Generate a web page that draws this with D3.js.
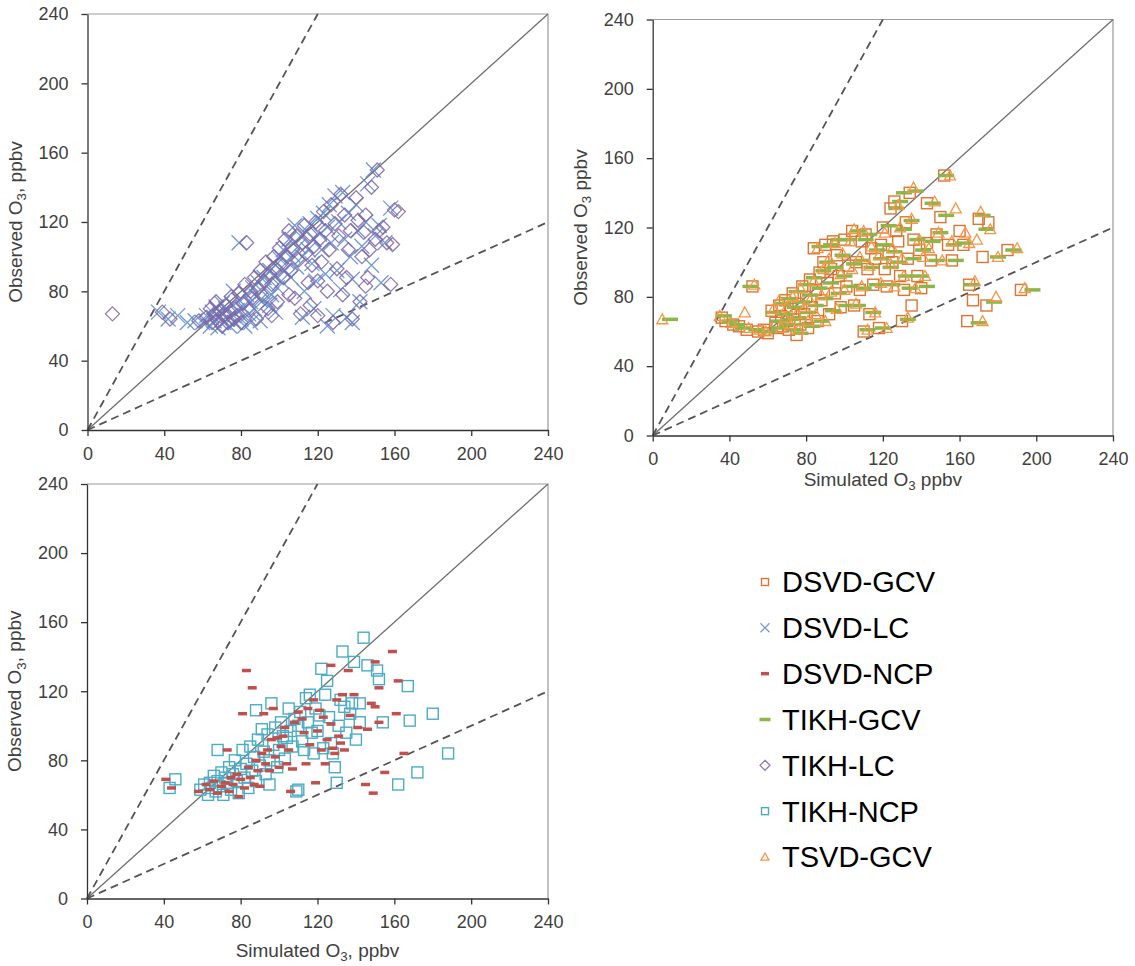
<!DOCTYPE html>
<html>
<head>
<meta charset="utf-8">
<script src="https://cdn.jsdelivr.net/npm/d3@7"></script>
<style>
  html, body { margin: 0; padding: 0; background: #fff; }
  svg { display: block; font-family: "Liberation Sans", Arial, sans-serif; }
</style>
</head>
<body>
<svg id="chart" width="1135" height="966"></svg>
<script>
// ---------------- DATA ----------------
const tickValues = [0, 40, 80, 120, 160, 200, 240];
const seriesNames = ["DSVD-GCV", "DSVD-LC", "DSVD-NCP", "TIKH-GCV", "TIKH-LC", "TIKH-NCP", "TSVD-GCV"];

// reference lines (1:1, 2:1, 1:2)
const lineOneToOne = [[0, 0], [240, 240]];
const lineTwoToOne = [[0, 0], [120, 240]];
const lineOneToTwo = [[0, 0], [240, 120]];

// Panel A: LC methods
const dsvdLC = [[37,68],[42,64],[47,66],[52,62],[56,63],[60,62],[62,66],[64,60],[65,68],[66,63],[67,71],[68,59],[69,65],[70,67],[71,62],[72,70],[73,64],[74,60],[75,73],[76,66],[77,62],[78,69],[79,75],[80,64],[81,71],[82,60],[83,78],[79,108],[84,67],[85,74],[86,82],[87,70],[88,77],[89,85],[90,63],[91,80],[92,88],[93,73],[94,84],[95,92],[96,78],[97,89],[98,95],[99,82],[100,99],[101,86],[102,104],[103,92],[104,97],[105,110],[106,88],[107,101],[108,118],[109,94],[110,106],[111,112],[112,100],[113,80],[114,115],[115,104],[116,119],[117,96],[118,110],[119,86],[120,122],[121,113],[122,104],[123,125],[124,90],[125,117],[126,130],[127,108],[128,66],[129,135],[130,92],[131,120],[132,81],[133,137],[134,110],[135,65],[136,125],[137,100],[138,87],[140,130],[141,115],[142,74],[143,106],[145,120],[146,142],[148,95],[149,150],[150,112],[152,118],[153,85],[155,108],[158,128],[138,62],[125,60],[118,70],[112,65],[98,68],[95,72],[90,75],[85,62],[76,80],[70,73]];
const tikhLC = [[13,67],[39,68],[43,64],[58,63],[62,65],[64,70],[65,62],[66,67],[67,74],[68,63],[69,69],[70,60],[71,66],[72,72],[73,62],[74,68],[75,77],[76,64],[77,70],[78,66],[79,79],[80,62],[81,73],[82,84],[83,108],[84,69],[85,80],[86,76],[87,88],[88,64],[89,82],[90,92],[91,78],[92,86],[93,97],[94,70],[95,90],[96,84],[97,100],[98,93],[99,74],[100,105],[101,96],[102,88],[103,110],[104,100],[105,115],[106,92],[107,104],[108,76],[109,112],[110,98],[111,67],[112,108],[113,118],[114,102],[115,85],[116,113],[117,95],[118,106],[119,120],[120,86],[121,110],[122,97],[123,126],[124,115],[125,80],[126,104],[127,130],[128,62],[129,119],[130,93],[131,112],[132,136],[133,78],[134,124],[135,88],[136,104],[137,115],[138,64],[140,134],[141,121],[142,74],[143,100],[144,114],[145,124],[146,88],[147,104],[148,140],[150,110],[151,150],[152,115],[154,117],[156,108],[158,84],[159,107],[160,127],[162,126],[145,83],[120,66],[116,72],[105,78],[96,66]];

// Panel B: GCV methods
const dsvdGCV = [[36,68],[38,66],[42,64],[45,63],[49,61],[52,86],[55,60],[58,61],[60,59],[62,72],[64,65],[65,62],[66,75],[67,69],[68,63],[69,78],[70,66],[71,61],[72,73],[73,82],[74,67],[75,58],[76,76],[77,64],[78,86],[79,70],[80,80],[81,62],[82,90],[83,74],[84,108],[85,84],[86,66],[87,94],[88,78],[89,100],[90,110],[91,88],[92,70],[93,96],[94,112],[95,82],[96,104],[97,92],[98,74],[100,113],[101,86],[102,98],[104,118],[105,75],[106,100],[108,84],[109,112],[110,60],[111,116],[112,96],[113,70],[114,108],[115,87],[116,102],[118,62],[119,110],[120,120],[121,96],[122,86],[123,106],[124,131],[125,100],[126,135],[127,118],[128,112],[129,92],[130,66],[131,84],[132,123],[133,102],[134,140],[135,75],[136,113],[138,92],[139,107],[140,85],[143,134],[143,111],[145,101],[148,116],[150,126],[152,150],[154,110],[156,101],[160,118],[162,110],[164,66],[165,87],[167,78],[170,125],[172,103],[174,75],[175,123],[185,107],[192,84]];
const tikhGCV = [[9,67],[37,69],[40,66],[44,64],[47,62],[51,86],[54,61],[57,60],[61,60],[63,71],[65,66],[66,62],[68,76],[69,70],[70,64],[71,79],[72,67],[73,61],[74,74],[75,83],[76,68],[77,59],[78,77],[79,64],[80,87],[81,71],[82,81],[83,63],[84,91],[85,75],[87,109],[87,85],[88,66],[89,95],[90,79],[91,100],[93,110],[93,88],[94,72],[95,97],[97,113],[97,82],[99,104],[100,92],[101,75],[102,113],[103,86],[105,99],[107,118],[107,75],[109,101],[110,85],[111,113],[112,61],[113,116],[114,97],[115,71],[117,107],[117,87],[119,102],[120,62],[121,110],[123,121],[124,97],[125,87],[126,106],[127,131],[128,100],[129,135],[131,119],[131,140],[132,92],[133,67],[134,85],[135,124],[136,102],[137,141],[138,113],[140,92],[141,107],[143,86],[146,134],[146,112],[148,101],[150,117],[153,127],[153,150],[157,110],[158,101],[162,111],[166,87],[170,65],[172,127],[174,119],[178,77],[180,103],[188,107],[198,84]];
const tsvdGCV = [[5,67],[35,69],[41,65],[48,71],[50,62],[53,87],[56,61],[59,60],[63,73],[66,78],[67,62],[69,68],[70,74],[72,64],[73,80],[75,70],[76,61],[77,85],[79,74],[81,66],[82,78],[84,89],[85,70],[86,108],[88,81],[89,96],[90,66],[92,102],[93,83],[95,111],[96,73],[98,93],[99,105],[100,84],[103,112],[104,96],[105,119],[106,76],[108,103],[109,86],[110,118],[112,61],[113,98],[114,109],[116,71],[118,104],[119,88],[121,117],[122,62],[124,99],[125,108],[126,86],[128,133],[129,120],[130,102],[131,92],[133,68],[135,125],[136,143],[137,85],[139,113],[141,103],[142,92],[144,108],[147,135],[149,117],[151,101],[155,150],[156,112],[158,131],[163,117],[165,111],[168,89],[169,113],[171,129],[172,66],[176,119],[179,80],[180,103],[190,108],[194,85]];

// Panel C: NCP methods
const tikhNCP = [[43,64],[46,69],[59,63],[61,66],[63,60],[64,67],[65,64],[66,71],[67,62],[68,86],[68,68],[69,65],[70,73],[71,60],[72,70],[73,67],[74,76],[75,63],[76,72],[77,80],[78,68],[79,61],[80,75],[81,86],[82,70],[83,78],[84,64],[85,88],[86,74],[87,82],[88,109],[88,68],[89,92],[90,77],[91,98],[92,85],[93,72],[94,95],[95,66],[95,80],[96,113],[97,89],[98,99],[99,76],[100,86],[101,102],[102,94],[103,81],[104,93],[105,110],[106,97],[107,88],[108,104],[109,62],[110,63],[110,100],[111,108],[112,91],[113,86],[114,116],[115,102],[116,118],[117,96],[118,84],[119,110],[120,97],[121,106],[122,133],[123,87],[124,118],[125,126],[126,105],[127,90],[128,84],[129,76],[130,67],[131,100],[132,115],[133,143],[134,111],[135,96],[137,107],[138,113],[139,137],[140,92],[142,102],[142,113],[144,151],[146,135],[151,132],[152,127],[154,102],[162,66],[167,123],[168,103],[172,73],[180,107],[188,84]];
const dsvdNCP = [[41,69],[44,64],[58,62],[62,66],[64,63],[66,68],[68,61],[70,65],[72,67],[73,86],[74,62],[75,70],[76,66],[78,72],[79,59],[80,69],[81,107],[82,64],[83,132],[84,76],[85,70],[86,122],[87,66],[88,80],[89,74],[90,65],[91,84],[92,107],[93,78],[94,86],[95,74],[96,92],[97,110],[98,82],[99,93],[100,76],[101,88],[102,94],[103,99],[104,78],[105,86],[106,62],[107,75],[108,102],[110,108],[112,104],[113,96],[114,78],[115,110],[116,89],[118,115],[119,67],[120,97],[121,109],[122,86],[123,105],[124,78],[125,92],[127,135],[127,101],[128,87],[129,84],[130,115],[131,94],[132,90],[133,118],[134,86],[136,132],[137,106],[139,118],[141,99],[145,66],[146,98],[148,113],[149,61],[150,137],[150,111],[152,102],[152,122],[155,73],[159,143],[161,107],[162,126],[165,84]];

// ---------------- STYLE ----------------
const colors = {
  "DSVD-GCV": "#DD7434",
  "DSVD-LC": "#5B8ACB",
  "DSVD-NCP": "#C0504D",
  "TIKH-GCV": "#8DB547",
  "TIKH-LC": "#7E65A8",
  "TIKH-NCP": "#4BACC6",
  "TSVD-GCV": "#F79646"
};

const svg = d3.select("#chart");
const FONT = "'Liberation Sans', Arial, sans-serif";
const TITLE_SIZE = 19;

const panels = [
  { left: 87.5, right: 548, top: 14, bottom: 430, xTitleOffset: 0,
    yTitle: ["Observed O", "3", ", ppbv"], xTitle: null,
    series: [["DSVD-LC", dsvdLC], ["TIKH-LC", tikhLC]] },
  { left: 652.7, right: 1113, top: 19.5, bottom: 435.5, xTitleOffset: 50,
    yTitle: ["Observed O", "3", " ppbv"], xTitle: ["Simulated O", "3", " ppbv"],
    series: [["DSVD-GCV", dsvdGCV], ["TIKH-GCV", tikhGCV], ["TSVD-GCV", tsvdGCV]] },
  { left: 87, right: 548, top: 484, bottom: 898.5, xTitleOffset: 58,
    yTitle: ["Observed O", "3", ", ppbv"], xTitle: ["Simulated O", "3", ", ppbv"],
    series: [["TIKH-NCP", tikhNCP], ["DSVD-NCP", dsvdNCP]] }
];

function drawMarker(g, name, cx, cy, legend) {
  const c = colors[name];
  if (name === "DSVD-LC") {
    const r = legend ? 4.5 : 7.5;
    g.append("path").attr("d", `M${cx-r},${cy-r}L${cx+r},${cy+r}M${cx-r},${cy+r}L${cx+r},${cy-r}`)
      .attr("stroke", c).attr("stroke-width", 1.3).attr("fill", "none").attr("stroke-opacity", 0.85);
  } else if (name === "TIKH-LC") {
    const r = legend ? 5 : 7;
    g.append("path").attr("d", `M${cx},${cy-r}L${cx+r},${cy}L${cx},${cy+r}L${cx-r},${cy}Z`)
      .attr("stroke", c).attr("stroke-width", 1.3).attr("fill", "none").attr("stroke-opacity", 0.85);
  } else if (name === "DSVD-GCV" || name === "TIKH-NCP") {
    const r = legend ? 3.5 : 5.5;
    g.append("rect").attr("x", cx-r).attr("y", cy-r).attr("width", 2*r).attr("height", 2*r)
      .attr("stroke", c).attr("stroke-width", 1.4).attr("fill", "none");
  } else if (name === "TSVD-GCV") {
    const r = legend ? 4 : 5.5;
    g.append("path").attr("d", `M${cx},${cy-r}L${cx+r},${cy+r*0.8}L${cx-r},${cy+r*0.8}Z`)
      .attr("stroke", c).attr("stroke-width", 1.3).attr("fill", "none");
  } else if (name === "TIKH-GCV") {
    const w = legend ? 11 : 16, h = 3.5;
    g.append("rect").attr("x", cx-w/2).attr("y", cy-h/2).attr("width", w).attr("height", h)
      .attr("fill", c);
  } else if (name === "DSVD-NCP") {
    const w = legend ? 8 : 9, h = 3.5;
    g.append("rect").attr("x", cx-w/2).attr("y", cy-h/2).attr("width", w).attr("height", h)
      .attr("fill", c);
  }
}

function addTitle(sel, parts, size) {
  sel.append("tspan").text(parts[0]);
  sel.append("tspan").attr("font-size", size * 0.7).attr("dy", size * 0.25).text(parts[1]);
  sel.append("tspan").attr("dy", -size * 0.25).text(parts[2]);
}

panels.forEach(p => {
  const x = d3.scaleLinear().domain([0, 240]).range([p.left, p.right]);
  const y = d3.scaleLinear().domain([0, 240]).range([p.bottom, p.top]);
  const g = svg.append("g");

  g.append("path").attr("d", `M${p.left},${p.top}H${p.right}V${p.bottom}`)
    .attr("stroke", "#9a9a9a").attr("stroke-width", 1.2).attr("fill", "none");

  const lg = d3.line().x(d => x(d[0])).y(d => y(d[1]));
  g.append("path").attr("d", lg(lineOneToOne)).attr("stroke", "#6e6e6e").attr("stroke-width", 1.3).attr("fill", "none");
  g.append("path").attr("d", lg(lineTwoToOne)).attr("stroke", "#555").attr("stroke-width", 1.8)
    .attr("stroke-dasharray", "8,5").attr("fill", "none");
  g.append("path").attr("d", lg(lineOneToTwo)).attr("stroke", "#555").attr("stroke-width", 1.8)
    .attr("stroke-dasharray", "8,5").attr("fill", "none");

  const mg = g.append("g");
  p.series.forEach(([name, data]) => {
    data.forEach(d => drawMarker(mg, name, x(d[0]), y(d[1]), false));
  });

  const ax = g.append("g").attr("transform", `translate(0,${p.bottom})`)
    .call(d3.axisBottom(x).tickValues(tickValues).tickSize(6).tickPadding(11).tickSizeOuter(0));
  const ay = g.append("g").attr("transform", `translate(${p.left},0)`)
    .call(d3.axisLeft(y).tickValues(tickValues).tickSize(6).tickPadding(13).tickSizeOuter(0));
  [ax, ay].forEach(a => {
    a.select(".domain").attr("stroke", "#333").attr("stroke-width", 1.3);
    a.selectAll(".tick line").attr("stroke", "#333").attr("stroke-width", 1.3);
    a.selectAll(".tick text").attr("fill", "#404040").attr("font-size", 18).attr("font-family", FONT);
  });

  const ty = g.append("text")
    .attr("transform", `translate(${p.left - 66},${(p.top + p.bottom) / 2}) rotate(-90)`)
    .attr("text-anchor", "middle").attr("fill", "#404040")
    .attr("font-size", TITLE_SIZE).attr("font-family", FONT);
  addTitle(ty, p.yTitle, TITLE_SIZE);
  if (p.xTitle) {
    const tx = g.append("text")
      .attr("x", (p.left + p.right) / 2).attr("y", p.bottom + p.xTitleOffset)
      .attr("text-anchor", "middle").attr("fill", "#404040")
      .attr("font-size", TITLE_SIZE).attr("font-family", FONT);
    addTitle(tx, p.xTitle, TITLE_SIZE);
  }
});

// legend
const legendY = d3.scalePoint().domain(seriesNames).range([582, 857]);
const lgd = svg.append("g");
seriesNames.forEach(n => {
  const cy = legendY(n);
  drawMarker(lgd, n, 765, cy, true);
  lgd.append("text").attr("x", 782).attr("y", cy).attr("dy", "0.36em")
    .attr("font-size", 29).attr("font-family", FONT).attr("fill", "#000").text(n);
});
</script>
</body>
</html>
